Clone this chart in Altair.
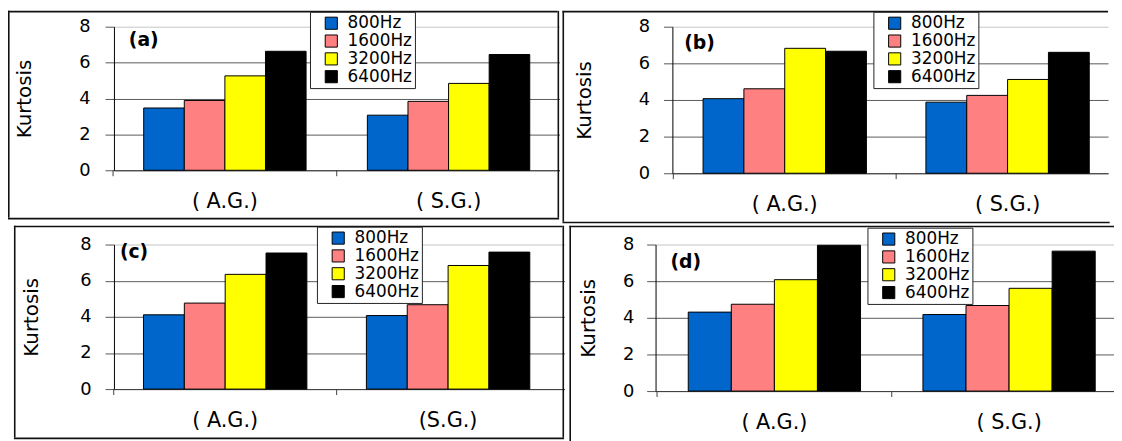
import altair as alt
import pandas as pd

# ---------------- data ----------------
freqs = ["800Hz", "1600Hz", "3200Hz", "6400Hz"]
colors = ["#0066CC", "#FF8080", "#FFFF00", "#000000"]
panel_labels = ["(a)", "(b)", "(c)", "(d)"]
y_ticks = [0, 2, 4, 6, 8]

groups_a = ["( A.G.)", "( S.G.)"]
groups_b = ["( A.G.)", "( S.G.)"]
groups_c = ["( A.G.)", "(S.G.)"]
groups_d = ["( A.G.)", "( S.G.)"]

ag_a = [3.47, 3.89, 5.26, 6.63]
sg_a = [3.07, 3.84, 4.84, 6.45]
ag_b = [4.07, 4.61, 6.82, 6.66]
sg_b = [3.88, 4.25, 5.12, 6.60]
ag_c = [4.11, 4.76, 6.35, 7.53]
sg_c = [4.07, 4.67, 6.84, 7.58]
ag_d = [4.31, 4.74, 6.08, 7.96]
sg_d = [4.18, 4.67, 5.61, 7.64]

FONT = "DejaVu Sans"


def make_df(groups, ag, sg):
    rows = []
    for g, vals in zip(groups, [ag, sg]):
        for f, v in zip(freqs, vals):
            rows.append({"group": g, "freq": f, "value": v})
    return pd.DataFrame(rows)


def one_row():
    return pd.DataFrame({"k": [0]})


def panel(groups, ag, sg, label, W, H, p_i, p_o, align, lx, ly, tx, lab_xy,
          frame, ylabpad):
    df = make_df(groups, ag, sg)
    step = W / (2 - p_i + 2 * p_o)
    half_gap = p_i * step / 2

    xscale = alt.Scale(domain=groups, paddingInner=p_i, paddingOuter=p_o, align=align)
    x_axis = alt.Axis(title=None, labelAngle=0, ticks=False, labelPadding=21,
                      labelFontSize=21, labelFont=FONT, labelColor="black",
                      domainColor="#404040", domainWidth=1, grid=False)
    bars = alt.Chart(df).mark_bar(stroke="black", strokeWidth=1).encode(
        x=alt.X("group:N", sort=groups, scale=xscale, axis=x_axis),
        xOffset=alt.XOffset("freq:N", sort=freqs,
                            scale=alt.Scale(domain=freqs, paddingInner=0, paddingOuter=0)),
        y=alt.Y("value:Q", scale=alt.Scale(domain=[0, 8], nice=False),
                axis=alt.Axis(values=y_ticks, title="Kurtosis", titleFontSize=20,
                              titleFont=FONT, titleFontWeight="normal", titleColor="black",
                              titleX=tx, titleY=H / 2, titleAngle=270,
                              titleBaseline="middle", titleAlign="center",
                              labelFontSize=18, labelFont=FONT, labelColor="black",
                              labelPadding=ylabpad, tickSize=9, tickColor="#555555",
                              domainColor="black", domainWidth=1,
                              gridColor={"condition": {"test": "datum.value === 8",
                                                       "value": "#c4c4c4"},
                                         "value": "#5a5a5a"},
                              gridWidth=1)),
        color=alt.Color("freq:N", sort=freqs,
                        scale=alt.Scale(domain=freqs, range=colors),
                        legend=alt.Legend(orient="none", legendX=lx, legendY=ly, title=None,
                                          symbolType="square", symbolSize=150,
                                          symbolStrokeColor="black", symbolStrokeWidth=1,
                                          labelFontSize=17, labelFont=FONT,
                                          labelColor="black", fillColor="white",
                                          strokeColor="#222222", padding=3,
                                          rowPadding=0, symbolOffset=10, labelOffset=8)),
    )

    ticks = alt.Chart(pd.DataFrame({"group": groups})).mark_rule(
        color="#404040", strokeWidth=1, xOffset=-half_gap).encode(
        x=alt.X("group:N", sort=groups, bandPosition=0, scale=xscale, axis=x_axis),
        y=alt.value(H), y2=alt.value(H + 6))

    layers = [bars, ticks]
    fl, fr, ft, fb = frame
    lw = 1.6

    def line(x, x2, y, y2):
        # thin filled rectangle used as a frame line
        return alt.Chart(one_row()).mark_rect(color="#111111", strokeWidth=0).encode(
            x=alt.value(x), x2=alt.value(x2), y=alt.value(y), y2=alt.value(y2))

    right_edge = fr if fr is not None else W
    bottom_edge = fb if fb is not None else H + 196
    layers.append(line(fl, right_edge, ft, ft + lw))           # top
    layers.append(line(fl, fl + lw, ft, bottom_edge))          # left
    if fb is not None:
        layers.append(line(fl, right_edge + lw, fb, fb + lw))  # bottom
    if fr is not None:
        layers.append(line(fr, fr + lw, ft, bottom_edge))      # right

    txt = alt.Chart(one_row()).mark_text(
        align="left", baseline="middle", fontWeight="bold", fontSize=19,
        font=FONT, color="black").encode(
        x=alt.value(lab_xy[0]), y=alt.value(lab_xy[1]), text=alt.value(label))
    layers.append(txt)
    return alt.layer(*layers).properties(width=W, height=H)


pa = panel(groups_a, ag_a, sg_a, panel_labels[0], W=450, H=145, p_i=0.274, p_o=0.133,
           align=0.5, lx=198, ly=-15, tx=-90, lab_xy=(15, 13),
           frame=(-107, 448, -16, 193), ylabpad=15)
pb = panel(groups_b, ag_b, sg_b, panel_labels[1], W=440, H=148, p_i=0.267, p_o=0.111,
           align=0.62, lx=203, ly=-15, tx=-89, lab_xy=(12, 17),
           frame=(-111, None, -16, 197), ylabpad=14)
pc = panel(groups_c, ag_c, sg_c, panel_labels[2], W=455, H=146, p_i=0.267, p_o=0.144,
           align=0.46, lx=205, ly=-18, tx=-83, lab_xy=(6, 8),
           frame=(-101, 453, -19, 195), ylabpad=14)
pd_ = panel(groups_d, ag_d, sg_d, panel_labels[3], W=463, H=148, p_i=0.266, p_o=0.1097,
            align=0.635, lx=214, ly=-17, tx=-68, lab_xy=(15, 18),
            frame=(-87, None, -19, None), ylabpad=13)


def indep(c):
    return c.resolve_scale(color="independent", x="independent", y="independent",
                           xOffset="independent").resolve_legend(color="independent")


row1 = indep(alt.hconcat(pa, pb, spacing=3))
row2 = indep(alt.hconcat(pc, pd_, spacing=5))
chart = indep(alt.vconcat(row1, row2, spacing=2))

chart = chart.properties(padding=0, background="white").configure_view(stroke=None)

chart.save("out.html", embed_options={"renderer": "svg", "actions": False})
